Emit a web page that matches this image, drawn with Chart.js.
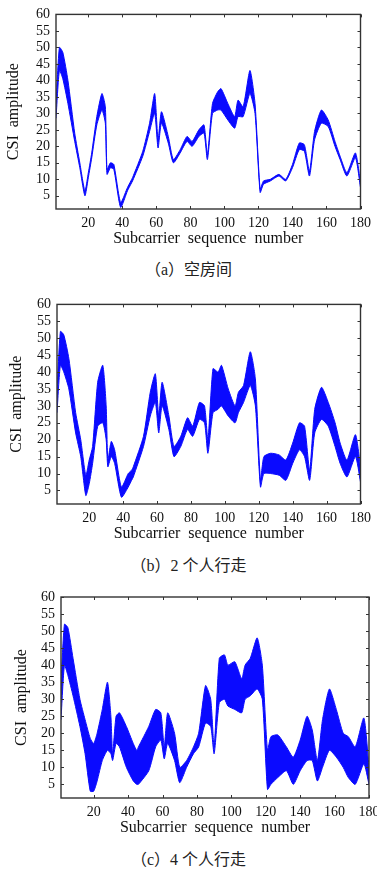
<!DOCTYPE html>
<html>
<head>
<meta charset="utf-8">
<script src="https://cdn.jsdelivr.net/npm/chart.js@4.4.0/dist/chart.umd.min.js"></script>
<style>
    html, body { margin: 0; padding: 0; background: #fff; overflow: hidden; }
    body { width: 377px; height: 871px; position: relative; }
    .panel { position: absolute; left: 0; }
    .caption {
        position: absolute; left: 0; width: 377px; text-align: center;
        font-family: "Liberation Serif", "Noto Sans CJK SC", serif;
        font-size: 16px; line-height: 20px; color: #222;
    }
</style>
</head>
<body>

<div class="panel" style="top:0px"><canvas id="chartA" width="377" height="248"></canvas></div>
<div class="caption" style="top:260px">（a）空房间</div>

<div class="panel" style="top:290px"><canvas id="chartB" width="377" height="253"></canvas></div>
<div class="caption" style="top:556px">（b）2 个人行走</div>

<div class="panel" style="top:580px"><canvas id="chartC" width="392" height="257"></canvas></div>
<div class="caption" style="top:850px">（c）4 个人行走</div>

<script>
const subcarriers = [1, 3, 5, 8, 12, 15, 18, 20, 22, 25, 28, 30, 31, 33, 35, 39, 43, 45, 46, 52,
    56, 59, 61, 63, 67, 70, 74, 78, 81, 85, 88, 90, 93, 96, 98, 102, 106, 108, 111, 115,
    118, 121, 123, 127, 132, 136, 140, 144, 147, 150, 153, 157, 161, 165, 168, 172, 177, 180];

const xTicks = [20, 40, 60, 80, 100, 120, 140, 160, 180];
const yTicks = [5, 10, 15, 20, 25, 30, 35, 40, 45, 50, 55, 60];

// (a) empty room - upper / lower edge of the CSI band
const emptyUpper = [33, 50, 48.5, 40, 24, 15, 6.5, 12, 18, 29, 36, 32, 13, 15, 14.5, 3, 7.5, 9.5, 10.5, 18.5,
    27, 36, 22, 30.5, 23, 16, 19, 23, 21.5, 25, 26.5, 17.5, 33, 36.5, 37.5, 33, 29, 34, 32, 43,
    33, 7, 9.5, 10, 11.5, 10, 14.5, 21, 20.5, 12.5, 24.5, 31, 28, 21.5, 17, 12, 18, 9];
const emptyLower = [28.5, 43, 40.5, 33, 21.5, 13.5, 5, 10.5, 16.5, 26.5, 31, 27, 11.5, 13.5, 13, 1.5, 6.5, 8.5, 9.5, 17,
    24.5, 30, 19.5, 27, 21, 15, 18, 21.5, 20, 23, 24, 16, 30, 31, 31, 28, 25.5, 29, 29, 36,
    30, 6, 8.5, 9.5, 11, 9.5, 13.5, 19, 18.5, 11, 22, 27, 26, 20, 16, 11, 16.5, 7.5];

// (b) two people walking
const twoUpper = [34, 52, 51, 44, 28, 20, 9.5, 14, 18, 37, 42, 30, 14, 19.5, 17, 6, 10, 11, 12, 21,
    34, 39.5, 27, 37, 27, 18, 21, 26.5, 24, 31, 30, 20, 41, 40, 42, 35, 30, 34, 36, 46,
    38, 8, 15, 16, 15.5, 14, 19, 25, 24, 11, 29, 35.5, 31, 25, 19, 14, 21.5, 12];
const twoLower = [28, 42, 40, 35, 22, 15, 3.5, 7, 13, 24, 25, 20, 12, 15, 13, 3, 6, 8, 9, 18,
    27, 31, 22, 30, 23, 15, 18, 23, 21, 26, 25, 16, 28, 29, 30, 27, 25, 28, 31, 36,
    30, 6, 10, 10, 9.5, 8, 13, 17, 15, 8, 22, 26, 24, 18, 13, 9, 15, 7.5];

// (c) four people walking
const fourUpper = [35, 52, 51, 42, 30, 24, 18.5, 17, 20, 27, 35, 25, 14, 25, 26, 22, 17, 15, 16, 22,
    27, 26, 16, 26, 20, 10, 12, 16, 20, 34, 30, 16, 42, 43, 40, 41, 36, 40, 42, 48,
    40, 15, 19, 19.5, 16, 13, 18, 25, 21, 12, 24, 33, 27, 20, 19, 16, 24.5, 10];
const fourLower = [24, 40, 37, 31, 22, 14, 3, 3, 6, 12, 15, 14, 12, 17, 16, 10, 6, 5, 5, 9,
    16, 18, 12.5, 17, 12, 5.5, 10, 14, 16, 23, 22, 14, 29, 30, 28, 27, 26, 30, 31, 33,
    30, 3.5, 5, 7, 9, 5, 9, 12, 12, 6, 10, 15, 13, 10, 7, 5, 11, 5];

const BLUE = '#0a0aff';
const AXIS_FONT = 'Liberation Serif';

// box round the plot with small inward ticks on all four sides
const frameTicks = {
    id: 'frameTicks',
    afterDatasetsDraw(chart) {
        const { ctx, chartArea: a, scales: { x, y } } = chart;
        ctx.save();
        ctx.strokeStyle = '#333';
        ctx.lineWidth = 1;
        ctx.beginPath();
        xTicks.forEach(v => {
            const px = Math.round(x.getPixelForValue(v)) + 0.5;
            ctx.moveTo(px, a.bottom); ctx.lineTo(px, a.bottom - 3);
            ctx.moveTo(px, a.top); ctx.lineTo(px, a.top + 3);
        });
        yTicks.forEach(v => {
            const py = Math.round(y.getPixelForValue(v)) + 0.5;
            ctx.moveTo(a.left, py); ctx.lineTo(a.left + 3, py);
            ctx.moveTo(a.right, py); ctx.lineTo(a.right - 3, py);
        });
        ctx.stroke();
        ctx.lineWidth = 1.4;
        ctx.strokeRect(a.left, a.top, a.right - a.left, a.bottom - a.top);
        ctx.restore();
    }
};

function toPoints(values) {
    return subcarriers.map((s, i) => ({ x: s, y: values[i] }));
}

function makePanel(id, upper, lower, pad, yWidth) {
    const ctx = document.getElementById(id).getContext('2d');
    return new Chart(ctx, {
        type: 'line',
        data: {
            datasets: [{
                data: toPoints(upper),
                borderColor: BLUE,
                backgroundColor: BLUE,
                borderWidth: 1,
                pointRadius: 0,
                tension: 0.2,
                fill: '+1'
            }, {
                data: toPoints(lower),
                borderColor: BLUE,
                borderWidth: 1,
                pointRadius: 0,
                tension: 0.2,
                fill: false
            }]
        },
        options: {
            responsive: false,
            animation: false,
            layout: { padding: { top: pad.top, left: pad.left, right: pad.right, bottom: 0 } },
            plugins: { legend: { display: false }, tooltip: { enabled: false } },
            scales: {
                x: {
                    type: 'linear',
                    min: 1,
                    max: 180,
                    grid: { display: false, drawTicks: false },
                    border: { display: false },
                    afterBuildTicks: s => { s.ticks = xTicks.map(v => ({ value: v })); },
                    afterFit: s => { s.height = 39; },
                    ticks: { color: '#111', padding: 6, autoSkip: false, maxRotation: 0, font: { family: AXIS_FONT, size: 14 } },
                    title: {
                        display: true,
                        text: 'Subcarrier  sequence  number',
                        color: '#111',
                        padding: 0,
                        font: { family: AXIS_FONT, size: 16 }
                    }
                },
                y: {
                    min: 1,
                    max: 60,
                    grid: { display: false, drawTicks: false },
                    border: { display: false },
                    afterBuildTicks: s => { s.ticks = yTicks.map(v => ({ value: v })); },
                    afterFit: s => { s.width = yWidth; },
                    ticks: { color: '#111', padding: 6, autoSkip: false, font: { family: AXIS_FONT, size: 14 } },
                    title: {
                        display: true,
                        text: 'CSI  amplitude',
                        color: '#111',
                        padding: 0,
                        font: { family: AXIS_FONT, size: 16 }
                    }
                }
            }
        },
        plugins: [frameTicks]
    });
}

makePanel('chartA', emptyUpper, emptyLower, { top: 11, left: 4, right: 10 }, 52);
makePanel('chartB', twoUpper, twoLower, { top: 14, left: 7, right: 10 }, 50);
makePanel('chartC', fourUpper, fourLower, { top: 17, left: 12, right: 23 }, 49);
</script>
</body>
</html>
